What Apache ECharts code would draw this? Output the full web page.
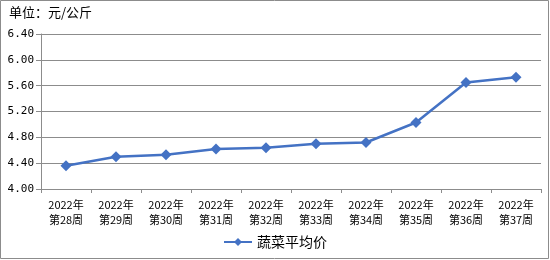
<!DOCTYPE html>
<html><head><meta charset="utf-8">
<script src="https://cdn.jsdelivr.net/npm/echarts@6/dist/echarts.min.js"></script>
<style>html,body{margin:0;padding:0;background:#fff}#c{width:550px;height:260px}</style>
</head><body><div id="c"></div>
<script>
var categories = ['2022年\n第28周','2022年\n第29周','2022年\n第30周','2022年\n第31周','2022年\n第32周','2022年\n第33周','2022年\n第34周','2022年\n第35周','2022年\n第36周','2022年\n第37周'];
var seriesName = '蔬菜平均价';
var values = [4.36, 4.50, 4.53, 4.62, 4.64, 4.70, 4.72, 5.03, 5.65, 5.73];
var unitLabel = '单位：元/公斤';

var font = '"Noto Sans CJK SC", sans-serif';
var chart = echarts.init(document.getElementById('c'));
chart.setOption({
  animation: false,
  graphic: [{type:'rect', shape:{x:0.5,y:0.5,width:548,height:258}, style:{fill:'none', stroke:'#8c8c8c', lineWidth:1}, silent:true},
            {type:'text', left:9, top:6, style:{text:unitLabel, font:'13px ' + font, fill:'#000'}}],
  grid: {left:41, right:9, top:34, bottom:71},
  legend: {bottom:6, left:'center', itemWidth:28, itemHeight:10, itemGap:4,
    textStyle:{fontFamily:font, fontSize:14, color:'#000'}, data:[seriesName]},
  xAxis: {type:'category', data:categories, boundaryGap:true,
    axisLine:{lineStyle:{color:'#8c8c8c'}},
    axisTick:{show:true, length:4, lineStyle:{color:'#8c8c8c'}},
    axisLabel:{fontFamily:font, fontSize:11, color:'#000', lineHeight:15, margin:8, interval:0}},
  yAxis: {type:'value', min:4.0, max:6.4, interval:0.4,
    axisLine:{show:true, lineStyle:{color:'#8c8c8c'}},
    axisTick:{show:true, length:5, lineStyle:{color:'#8c8c8c'}},
    splitLine:{lineStyle:{color:'#8c8c8c'}},
    axisLabel:{fontFamily:'"DejaVu Sans Mono", monospace', fontSize:11, color:'#000', margin:7,
      formatter:function(v){return v.toFixed(2);}}},
  series: [{name:seriesName, type:'line', data:values, symbol:'diamond', symbolSize:11,
    lineStyle:{color:'#4472C4', width:2.5}, itemStyle:{color:'#4472C4'}}]
});
</script></body></html>
